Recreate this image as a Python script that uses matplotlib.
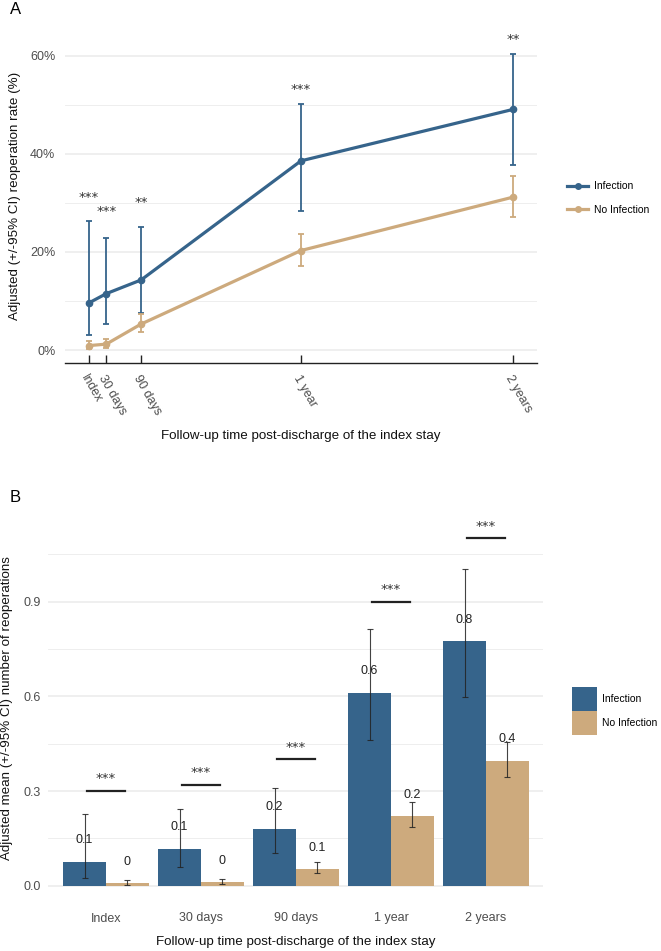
import matplotlib
matplotlib.use("Agg")
import matplotlib.pyplot as plt
from matplotlib.lines import Line2D
from matplotlib.patches import Patch
import numpy as np

plt.rcParams['font.family'] = ['Liberation Sans', 'DejaVu Sans']

# ---------------- data ----------------
time_days = [0, 30, 90, 365, 730]
time_labels = ["Index", "30 days", "90 days", "1 year", "2 years"]

# Panel A: adjusted reoperation rate (%)
inf_rate = [9.6, 11.5, 14.3, 38.6, 49.1]
inf_lo = [3.1, 5.4, 7.6, 28.3, 37.8]
inf_hi = [26.4, 22.9, 25.0, 50.1, 60.5]
noinf_rate = [0.9, 1.2, 5.3, 20.3, 31.2]
noinf_lo = [0.3, 0.5, 3.7, 17.1, 27.1]
noinf_hi = [1.9, 2.2, 7.4, 23.7, 35.6]
rate_stars = ["***", "***", "**", "***", "**"]
rate_star_y = [31.2, 28.2, 30.1, 53.2, 63.4]

# Panel B: adjusted mean number of reoperations
inf_mean = [0.077, 0.118, 0.180, 0.612, 0.775]
inf_mean_lo = [0.026, 0.058, 0.104, 0.462, 0.598]
inf_mean_hi = [0.228, 0.243, 0.309, 0.813, 1.003]
noinf_mean = [0.008, 0.011, 0.053, 0.220, 0.397]
noinf_mean_lo = [0.003, 0.005, 0.040, 0.186, 0.344]
noinf_mean_hi = [0.017, 0.022, 0.074, 0.264, 0.456]
sig_line_y = [0.301, 0.320, 0.401, 0.900, 1.101]
mean_stars = ["***", "***", "***", "***", "***"]

groups = ["Infection", "No Infection"]
BLUE = "#36648B"
TAN = "#CDAA7D"
GRID = "#EBEBEB"
TICK = "#4D4D4D"
STAR_FONT = ["DejaVu Sans"]

W, H = 661, 951
fig = plt.figure(figsize=(W / 100, H / 100), dpi=100)
fig.patch.set_facecolor("white")


def px_axes(left, top, right, bottom):
    return fig.add_axes([left / W, 1 - bottom / H, (right - left) / W, (bottom - top) / H])


# ---------------- Panel A ----------------
axA = px_axes(65, 29, 537, 363)
axA.set_xlim(-41, 771)
axA.set_ylim(-2.65, 65.5)
for s in ["top", "right", "left"]:
    axA.spines[s].set_visible(False)
axA.spines["bottom"].set_color("#222222")
axA.spines["bottom"].set_linewidth(1.0)

axA.set_yticks([0, 20, 40, 60])
axA.set_yticklabels(["0%", "20%", "40%", "60%"])
axA.set_yticks([10, 30, 50], minor=True)
axA.yaxis.grid(True, which="major", color=GRID, lw=1.1)
axA.yaxis.grid(True, which="minor", color=GRID, lw=0.6)
axA.set_axisbelow(True)
axA.tick_params(axis="y", which="both", length=0, pad=7, labelsize=9, labelcolor=TICK)

axA.set_xticks(time_days)
axA.set_xticklabels(time_labels, rotation=-60, ha="left", va="top", rotation_mode="anchor")
axA.tick_params(axis="x", direction="in", length=6, width=1.0, color="#222222",
                labelsize=9, labelcolor=TICK, pad=7)

for rate, lo, hi, col, lab in [(inf_rate, inf_lo, inf_hi, BLUE, groups[0]),
                               (noinf_rate, noinf_lo, noinf_hi, TAN, groups[1])]:
    r = np.array(rate)
    yerr = [r - np.array(lo), np.array(hi) - r]
    axA.errorbar(time_days, rate, yerr=yerr, fmt="none", ecolor=col, elinewidth=1.3,
                 capsize=2.5, capthick=1.3, zorder=3)
    axA.plot(time_days, rate, color=col, lw=2.3, marker="o", ms=4.5, zorder=4, label=lab)

for x, yv, st in zip(time_days, rate_star_y, rate_stars):
    axA.text(x, yv, st, ha="center", va="center", fontsize=9.5, color="#333333",
             family=STAR_FONT)

axA.set_ylabel("Adjusted (+/-95% CI) reoperation rate (%)", fontsize=9.6, color="#111111",
               va="center")
axA.yaxis.set_label_coords(-0.106, 0.5)
axA.set_xlabel("Follow-up time post-discharge of the index stay", fontsize=9.6, color="#111111",
               va="center")
axA.xaxis.set_label_coords(0.5, -0.2186)

handlesA = [Line2D([0], [0], color=BLUE, lw=2.3, marker="o", ms=4),
            Line2D([0], [0], color=TAN, lw=2.3, marker="o", ms=4)]
fig.legend(handlesA, groups, loc="center left", bbox_to_anchor=(562 / W, 1 - 198 / H),
           frameon=False, fontsize=7.5, handlelength=2.0, handletextpad=0.6,
           labelspacing=1.3, borderpad=0)

fig.text(10 / W, 1 - 10 / H, "A", fontsize=12, ha="left", va="center")

# ---------------- Panel B ----------------
axB = px_axes(48, 516.6, 543, 900)
x = np.arange(len(time_labels))
bw = 0.45
axB.set_xlim(-0.61, 4.6)
axB.set_ylim(-0.045, 1.17)
for s in axB.spines.values():
    s.set_visible(False)
axB.set_yticks([0.0, 0.3, 0.6, 0.9])
axB.set_yticklabels(["0.0", "0.3", "0.6", "0.9"])
axB.set_yticks([0.15, 0.45, 0.75, 1.05], minor=True)
axB.yaxis.grid(True, which="major", color=GRID, lw=1.1)
axB.yaxis.grid(True, which="minor", color=GRID, lw=0.6)
axB.set_axisbelow(True)
axB.tick_params(axis="y", which="both", length=0, pad=5, labelsize=9, labelcolor=TICK)
axB.set_xticks(x)
axB.set_xticklabels(time_labels)
axB.tick_params(axis="x", length=0, pad=9, labelsize=9, labelcolor=TICK)

for off, mean, lo, hi, col, lab in [(-bw / 2, inf_mean, inf_mean_lo, inf_mean_hi, BLUE, groups[0]),
                                    (bw / 2, noinf_mean, noinf_mean_lo, noinf_mean_hi, TAN, groups[1])]:
    xs = x + off
    m = np.array(mean)
    axB.bar(xs, mean, width=bw, color=col, zorder=2, label=lab)
    for xi, v in zip(xs, mean):
        axB.annotate(f"{round(v, 1):g}", (xi, v), xytext=(0, 15.5), textcoords="offset points",
                     ha="center", va="center", fontsize=9, color="#222222", zorder=3)
    axB.errorbar(xs, mean, yerr=[m - np.array(lo), np.array(hi) - m], fmt="none",
                 ecolor="#222222", elinewidth=0.8, capsize=2.5, capthick=0.8, alpha=0.85, zorder=4)

for xi, yv, st in zip(x, sig_line_y, mean_stars):
    axB.plot([xi - 0.2, xi + 0.2], [yv, yv], color="#222222", lw=1.6, zorder=3)
    axB.text(xi, yv + 0.038, st, ha="center", va="center", fontsize=9.5, color="#333333",
             family=STAR_FONT)

axB.set_ylabel("Adjusted mean (+/-95% CI) number of reoperations", fontsize=9.6, color="#111111",
               va="center")
axB.yaxis.set_label_coords(-0.083, 0.5)
axB.set_xlabel("Follow-up time post-discharge of the index stay", fontsize=9.6, color="#111111",
               va="center")
axB.xaxis.set_label_coords(0.5, -0.109)

handlesB = [Patch(facecolor=BLUE), Patch(facecolor=TAN)]
fig.legend(handlesB, groups, loc="center left", bbox_to_anchor=(567 / W, 1 - 711 / H),
           frameon=False, fontsize=7.5, handlelength=2.4, handleheight=3.15,
           handletextpad=0.5, labelspacing=0.05, borderpad=0)

fig.text(10 / W, 1 - 497 / H, "B", fontsize=12, ha="left", va="center")

fig.savefig("out.png", dpi=100, facecolor="white")
